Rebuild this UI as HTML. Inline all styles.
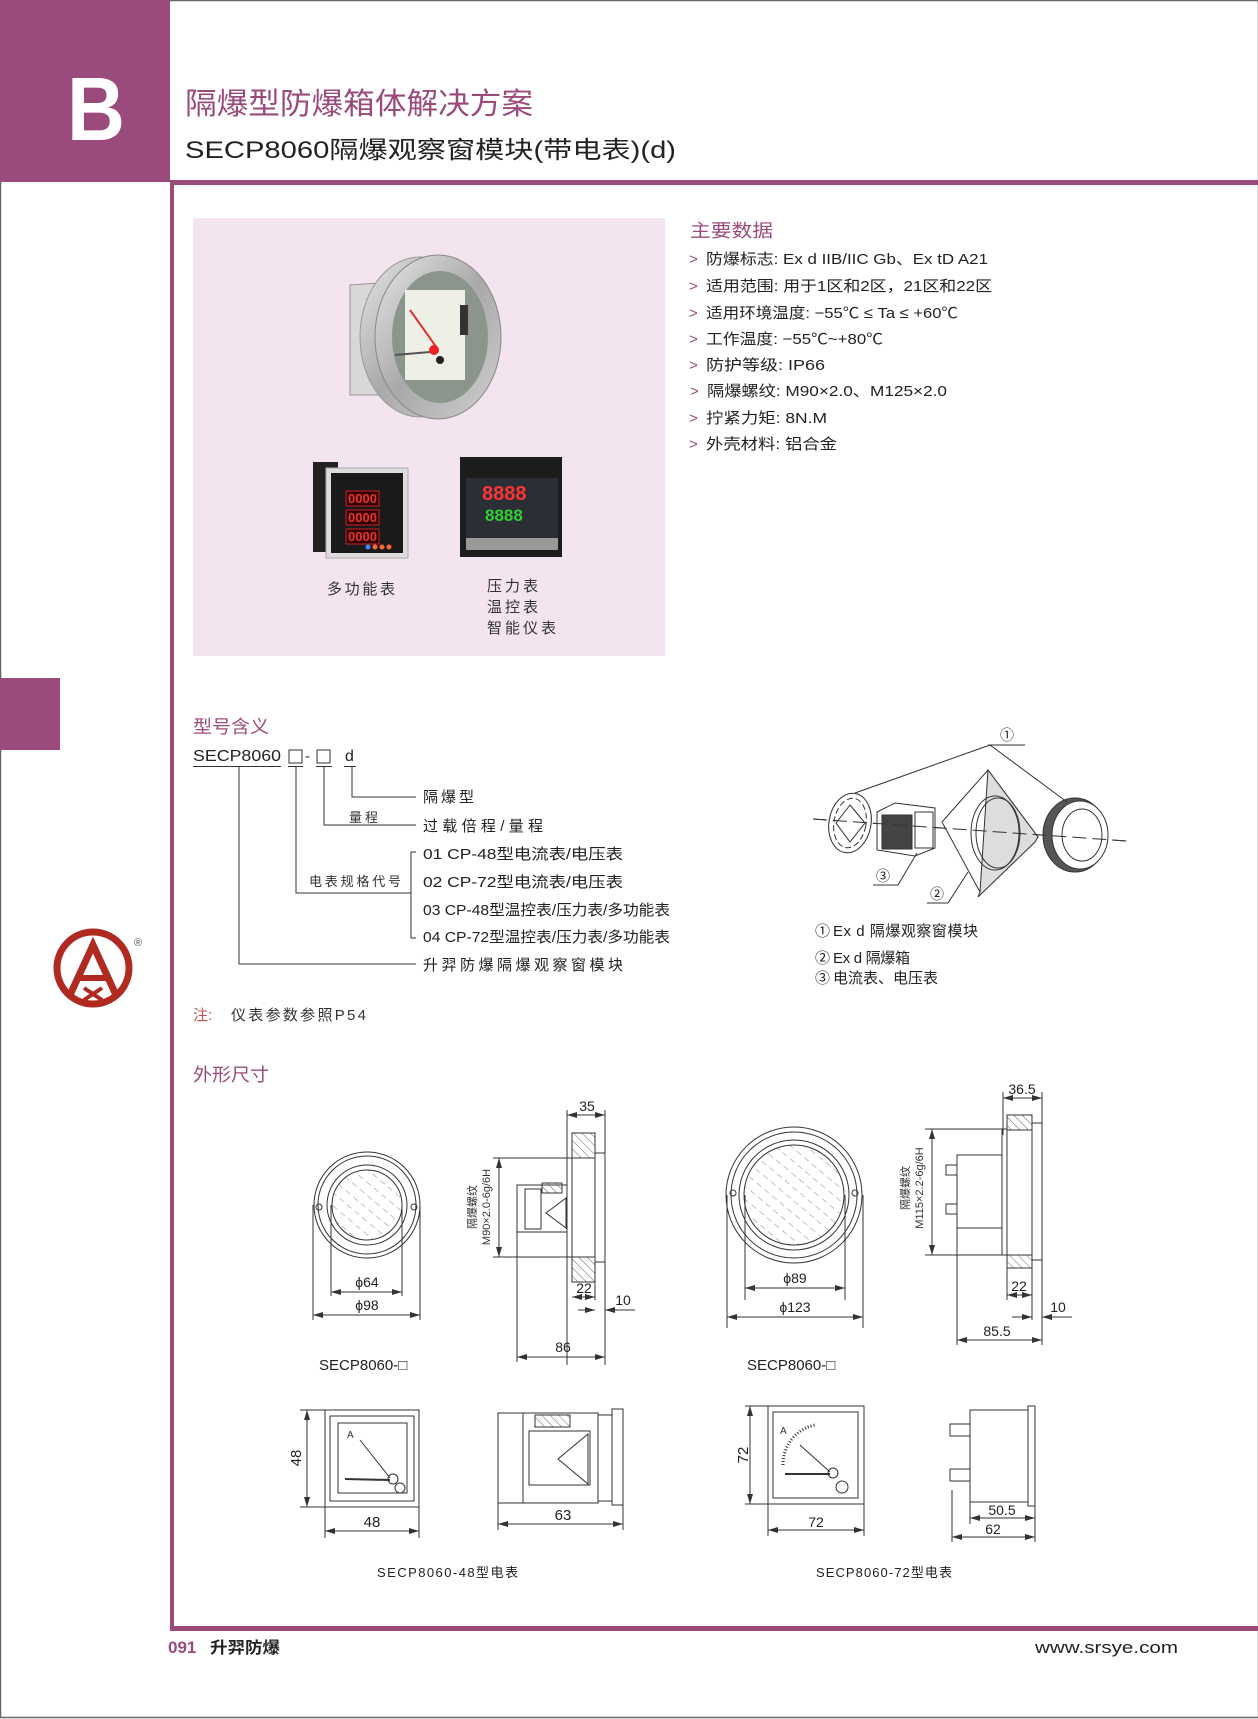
<!DOCTYPE html>
<html><head><meta charset="utf-8"><style>
html,body{margin:0;padding:0;background:#fff}
svg{display:block}
text{font-family:"Liberation Sans","Noto Sans CJK SC",sans-serif}
</style></head><body>
<svg width="1258" height="1719" viewBox="0 0 1258 1719" xmlns="http://www.w3.org/2000/svg">
<defs>
<pattern id="hat" width="6" height="6" patternUnits="userSpaceOnUse" patternTransform="rotate(-45)">
<line x1="0" y1="0" x2="0" y2="6" stroke="#444" stroke-width="0.8"/>
</pattern>
<pattern id="glass" width="10" height="10" patternUnits="userSpaceOnUse" patternTransform="rotate(-50)">
<line x1="0" y1="0" x2="0" y2="6" stroke="#555" stroke-width="0.7"/>
</pattern>
<linearGradient id="steel" x1="0" y1="0" x2="1" y2="1">
<stop offset="0" stop-color="#e6e6e6"/><stop offset="0.5" stop-color="#a9a9a9"/><stop offset="1" stop-color="#d0d0d0"/>
</linearGradient>
<marker id="ar" viewBox="0 0 10 6" refX="10" refY="3" markerWidth="10" markerHeight="6" orient="auto-start-reverse"><path d="M0,0 L10,3 L0,6 z" fill="#333"/></marker>
</defs>

<!-- page border -->
<rect x="0.5" y="0.5" width="1258" height="1717" fill="none" stroke="#666" stroke-width="1.5"/>

<!-- header block -->
<rect x="0" y="0" width="170" height="182" fill="#9b4a7c"/>
<text x="67" y="140" font-size="90" font-weight="bold" fill="#fff" textLength="58" lengthAdjust="spacingAndGlyphs">B</text>
<rect x="170" y="180" width="1088" height="5" fill="#9b4a7c"/>
<rect x="170" y="180" width="4" height="1451" fill="#9b4a7c"/>
<rect x="170" y="1626" width="1088" height="5" fill="#9b4a7c"/>
<rect x="0" y="678" width="60" height="72" fill="#9b4a7c"/>

<text x="185" y="114" font-size="30" fill="#9b4a7c" textLength="348" lengthAdjust="spacingAndGlyphs">隔爆型防爆箱体解决方案</text>
<text x="185" y="158" font-size="24" fill="#222" textLength="491" lengthAdjust="spacingAndGlyphs">SECP8060隔爆观察窗模块(带电表)(d)</text>

<!-- photo box -->
<rect x="193" y="218" width="472" height="438" fill="#f3e4ef"/>
<!-- gauge -->
<path d="M350 285 L420 280 L420 395 L350 395 z" fill="#d8d8d8" stroke="#999"/>
<ellipse cx="420" cy="337" rx="60" ry="80" fill="url(#steel)" stroke="#999"/>
<ellipse cx="438" cy="337" rx="63" ry="82" fill="url(#steel)" stroke="#888"/>
<ellipse cx="440" cy="337" rx="48" ry="66" fill="#8b958c"/>
<rect x="405" y="290" width="60" height="90" fill="#eef0e6"/>
<line x1="410" y1="310" x2="437" y2="348" stroke="#d33" stroke-width="2"/>
<line x1="395" y1="355" x2="430" y2="352" stroke="#555" stroke-width="2"/>
<circle cx="434" cy="350" r="5" fill="#e22"/>
<circle cx="440" cy="360" r="4" fill="#222"/>
<rect x="460" y="305" width="8" height="30" fill="#333"/>
<!-- multifunction -->
<rect x="313" y="462" width="25" height="90" fill="#222"/>
<rect x="326" y="468" width="82" height="90" fill="#ddd" stroke="#aaa"/>
<rect x="331" y="473" width="72" height="80" fill="#1a1a1a"/>
<g font-family="Liberation Mono" font-size="13" fill="#e33" font-weight="bold">
<rect x="346" y="491" width="33" height="15" fill="#300" stroke="#c22"/><text x="348" y="503">0000</text>
<rect x="346" y="510" width="33" height="15" fill="#300" stroke="#c22"/><text x="348" y="522">0000</text>
<rect x="346" y="529" width="33" height="15" fill="#300" stroke="#c22"/><text x="348" y="541">0000</text>
</g>
<circle cx="368" cy="547" r="2.5" fill="#48f"/><circle cx="375" cy="547" r="2.5" fill="#f63"/><circle cx="382" cy="547" r="2.5" fill="#f63"/><circle cx="389" cy="547" r="2.5" fill="#f63"/>
<!-- controller -->
<rect x="460" y="457" width="102" height="100" fill="#1c1c1c"/>
<rect x="466" y="478" width="92" height="72" fill="#2a2e35"/>
<text x="482" y="500" font-family="Liberation Mono" font-size="20" fill="#f33" font-weight="bold">8888</text>
<text x="485" y="521" font-family="Liberation Mono" font-size="17" fill="#3c3" font-weight="bold">8888</text>
<rect x="466" y="538" width="92" height="12" fill="#999"/>
<g font-size="15" fill="#333">
<text x="327" y="594" textLength="68" lengthAdjust="spacing">多功能表</text>
<text x="487" y="591" textLength="51" lengthAdjust="spacing">压力表</text>
<text x="487" y="612" textLength="51" lengthAdjust="spacing">温控表</text>
<text x="487" y="633" textLength="69" lengthAdjust="spacing">智能仪表</text>
</g>

<!-- main data -->
<text x="690" y="237" font-size="18" fill="#9b4a7c" textLength="83" lengthAdjust="spacingAndGlyphs">主要数据</text>
<g font-size="15" fill="#9b4a7c">
<text x="689" y="264">&gt;</text><text x="689" y="291">&gt;</text><text x="689" y="318">&gt;</text><text x="689" y="344">&gt;</text>
<text x="689" y="370">&gt;</text><text x="690" y="396">&gt;</text><text x="689" y="423">&gt;</text><text x="689" y="449">&gt;</text>
</g>
<g font-size="15" fill="#222">
<text x="706" y="264" textLength="282" lengthAdjust="spacingAndGlyphs">防爆标志:  Ex d IIB/IIC Gb、Ex tD A21</text>
<text x="706" y="291" textLength="286" lengthAdjust="spacingAndGlyphs">适用范围:  用于1区和2区，21区和22区</text>
<text x="706" y="318" textLength="252" lengthAdjust="spacingAndGlyphs">适用环境温度:  −55℃ ≤ Ta ≤ +60℃</text>
<text x="706" y="344" textLength="177" lengthAdjust="spacingAndGlyphs">工作温度:  −55℃~+80℃</text>
<text x="706" y="370" textLength="119" lengthAdjust="spacingAndGlyphs">防护等级:  IP66</text>
<text x="707" y="396" textLength="240" lengthAdjust="spacingAndGlyphs">隔爆螺纹:  M90×2.0、M125×2.0</text>
<text x="706" y="423" textLength="121" lengthAdjust="spacingAndGlyphs">拧紧力矩:  8N.M</text>
<text x="706" y="449" textLength="131" lengthAdjust="spacingAndGlyphs">外壳材料:  铝合金</text>
</g>

<!-- model meaning -->
<text x="193" y="733" font-size="18" fill="#9b4a7c" textLength="76" lengthAdjust="spacingAndGlyphs">型号含义</text>
<text x="193" y="761" font-size="16" fill="#222" textLength="88" lengthAdjust="spacingAndGlyphs">SECP8060</text>
<rect x="289" y="750" width="13" height="13" fill="none" stroke="#333"/>
<text x="305" y="761" font-size="15" fill="#333">-</text>
<rect x="317" y="750" width="13" height="13" fill="none" stroke="#333"/>
<text x="345" y="761" font-size="16" fill="#222">d</text>
<g stroke="#333" stroke-width="1" fill="none">
<line x1="193" y1="766.5" x2="281" y2="766.5"/><line x1="288" y1="766.5" x2="303" y2="766.5"/>
<line x1="316" y1="766.5" x2="332" y2="766.5"/><line x1="344" y1="766.5" x2="356" y2="766.5"/>
<polyline points="352,766 352,797 416,797"/>
<polyline points="324,766 324,825 416,825"/>
<polyline points="296,766 296,893 411,893"/>
<polyline points="416,852 411,852 411,938 416,938"/>
<polyline points="239,766 239,964 416,964"/>
</g>
<g font-size="15" fill="#222">
<text x="423" y="802" textLength="51" lengthAdjust="spacing">隔爆型</text>
<text x="423" y="831" textLength="120" lengthAdjust="spacing">过载倍程/量程</text>
<text x="423" y="859" textLength="200" lengthAdjust="spacingAndGlyphs">01 CP-48型电流表/电压表</text>
<text x="423" y="887" textLength="200" lengthAdjust="spacingAndGlyphs">02 CP-72型电流表/电压表</text>
<text x="423" y="915" textLength="247" lengthAdjust="spacingAndGlyphs">03 CP-48型温控表/压力表/多功能表</text>
<text x="423" y="942" textLength="247" lengthAdjust="spacingAndGlyphs">04 CP-72型温控表/压力表/多功能表</text>
<text x="423" y="970" textLength="200" lengthAdjust="spacing">升羿防爆隔爆观察窗模块</text>
</g>
<text x="349" y="822" font-size="13" fill="#333" textLength="29" lengthAdjust="spacing">量程</text>
<text x="309" y="886" font-size="13" fill="#333" textLength="92" lengthAdjust="spacing">电表规格代号</text>
<text x="193" y="1020" font-size="15" fill="#c0504d">注:</text>
<text x="231" y="1020" font-size="15" fill="#333" textLength="135" lengthAdjust="spacing">仪表参数参照P54</text>

<!-- logo -->
<circle cx="93" cy="968" r="36" fill="none" stroke="#b02a22" stroke-width="7"/>
<path d="M70 995 L93 945 L116 995" fill="none" stroke="#b02a22" stroke-width="7"/>
<path d="M80 978 L106 978" stroke="#b02a22" stroke-width="6"/>
<path d="M84 1000 L102 988 M84 988 L102 1000" stroke="#b02a22" stroke-width="4"/>
<text x="134" y="946" font-size="11" fill="#555">®</text>

<!-- exploded view -->
<g stroke="#333" fill="none" stroke-width="1">
<line x1="813" y1="819" x2="1127" y2="841" stroke-dasharray="14,6"/>
<ellipse cx="850" cy="823" rx="21" ry="30" transform="rotate(10 850 823)" fill="#fff"/>
<ellipse cx="850" cy="823" rx="16" ry="25" transform="rotate(10 850 823)" stroke-dasharray="6,3"/>
<polygon points="850,805 865,823 850,842 836,823"/>
<polygon points="877,812 895,803 935,808 935,848 915,856 877,850" fill="#fff"/>
<rect x="882" y="815" width="30" height="34" fill="#444"/>
<rect x="915" y="812" width="18" height="36" fill="#fff"/>
<polygon points="988,770 1038,837 980,892 942,822" fill="#fff"/>
<polygon points="988,770 1038,837 1035,842 978,897 980,892" fill="#ddd"/>
<ellipse cx="995" cy="833" rx="24" ry="37"/>
<ellipse cx="998" cy="833" rx="22" ry="35"/>
<ellipse cx="1075" cy="835" rx="32" ry="37" fill="#555"/>
<ellipse cx="1080" cy="835" rx="28" ry="34" fill="#fff"/>
<ellipse cx="1082" cy="835" rx="20" ry="26"/>
<line x1="813" y1="819" x2="1127" y2="841" stroke-dasharray="14,6"/>
<line x1="988" y1="745" x2="1025" y2="745"/>
<line x1="990" y1="745" x2="855" y2="793"/>
<line x1="990" y1="745" x2="1067" y2="802"/>
<polyline points="873,885 898,885 917,853"/>
<polyline points="927,903 948,903 968,872"/>
</g>
<g font-size="14" fill="#222">
<text x="1000" y="740">①</text><text x="876" y="881">③</text><text x="930" y="899">②</text>
</g>
<g font-size="15" fill="#222">
<text x="815" y="936">①</text><text x="833" y="936" textLength="145" lengthAdjust="spacing">Ex d 隔爆观察窗模块</text>
<text x="815" y="963">②</text><text x="833" y="963" textLength="77" lengthAdjust="spacing">Ex d 隔爆箱</text>
<text x="815" y="983">③</text><text x="833" y="983" textLength="105" lengthAdjust="spacing">电流表、电压表</text>
</g>

<text x="193" y="1081" font-size="18" fill="#9b4a7c" textLength="76" lengthAdjust="spacingAndGlyphs">外形尺寸</text>

<!-- drawing 1 -->
<g stroke="#333" fill="none" stroke-width="1">
<circle cx="367" cy="1205" r="53"/><circle cx="367" cy="1205" r="49"/>
<circle cx="367" cy="1205" r="40"/>
<circle cx="367" cy="1205" r="35" fill="url(#glass)"/>
<circle cx="319" cy="1207" r="3"/><circle cx="414" cy="1207" r="3"/>
<line x1="331" y1="1205" x2="331" y2="1296"/><line x1="402" y1="1205" x2="402" y2="1296"/>
<line x1="331" y1="1292" x2="402" y2="1292" marker-start="url(#ar)" marker-end="url(#ar)"/>
<line x1="313" y1="1205" x2="313" y2="1320"/><line x1="420" y1="1205" x2="420" y2="1320"/>
<line x1="313" y1="1315" x2="420" y2="1315" marker-start="url(#ar)" marker-end="url(#ar)"/>
<!-- side -->
<line x1="493" y1="1158" x2="570" y2="1158"/><line x1="493" y1="1257" x2="570" y2="1257"/>
<line x1="499" y1="1158" x2="499" y2="1257" marker-start="url(#ar)" marker-end="url(#ar)"/>
<rect x="567" y="1158" width="5" height="99"/>
<rect x="572" y="1133" width="23" height="25" fill="url(#hat)"/>
<rect x="572" y="1257" width="23" height="25" fill="url(#hat)"/>
<rect x="572" y="1158" width="23" height="99"/>
<rect x="595" y="1153" width="10" height="109"/>
<path d="M517 1185 L567 1185 L567 1232 L517 1232 z"/>
<rect x="525" y="1189" width="16" height="40"/>
<rect x="542" y="1183" width="20" height="10" fill="url(#hat)"/>
<polygon points="546,1213 566,1198 566,1228"/>
<line x1="567" y1="1110" x2="567" y2="1365"/><line x1="605" y1="1110" x2="605" y2="1365"/>
<line x1="567" y1="1115" x2="605" y2="1115" marker-start="url(#ar)" marker-end="url(#ar)"/>
<line x1="595" y1="1262" x2="595" y2="1300"/>
<line x1="572" y1="1297" x2="595" y2="1297" marker-start="url(#ar)" marker-end="url(#ar)"/>
<line x1="578" y1="1310" x2="595" y2="1310" marker-end="url(#ar)"/>
<line x1="635" y1="1310" x2="605" y2="1310" marker-end="url(#ar)"/>
<line x1="517" y1="1232" x2="517" y2="1362"/>
<line x1="517" y1="1357" x2="605" y2="1357" marker-start="url(#ar)" marker-end="url(#ar)"/>
</g>
<g font-size="14" fill="#222" text-anchor="middle">
<text x="367" y="1287">ϕ64</text><text x="367" y="1310">ϕ98</text>
<text x="587" y="1111">35</text><text x="584" y="1293">22</text><text x="623" y="1305">10</text><text x="563" y="1352">86</text>
</g>
<g font-size="11" fill="#333" text-anchor="middle">
<text transform="translate(476 1207) rotate(-90)">隔爆螺纹</text>
<text transform="translate(490 1207) rotate(-90)">M90×2.0-6g/6H</text>
</g>
<text x="319" y="1370" font-size="15" fill="#222">SECP8060-□</text>

<!-- drawing 2 -->
<g stroke="#333" fill="none" stroke-width="1">
<circle cx="794" cy="1195" r="68"/><circle cx="794" cy="1195" r="63"/>
<circle cx="794" cy="1195" r="55"/>
<circle cx="794" cy="1195" r="50" fill="url(#glass)"/>
<circle cx="733" cy="1193" r="3"/><circle cx="855" cy="1193" r="3"/>
<line x1="745" y1="1195" x2="745" y2="1300"/><line x1="845" y1="1195" x2="845" y2="1300"/>
<line x1="745" y1="1288" x2="845" y2="1288" marker-start="url(#ar)" marker-end="url(#ar)"/>
<line x1="727" y1="1195" x2="727" y2="1328"/><line x1="863" y1="1195" x2="863" y2="1328"/>
<line x1="727" y1="1317" x2="863" y2="1317" marker-start="url(#ar)" marker-end="url(#ar)"/>
<line x1="925" y1="1129" x2="1003" y2="1129"/><line x1="925" y1="1255" x2="1003" y2="1255"/>
<line x1="932" y1="1129" x2="932" y2="1255" marker-start="url(#ar)" marker-end="url(#ar)"/>
<rect x="1002" y="1129" width="5" height="126"/>
<rect x="1007" y="1115" width="25" height="15" fill="url(#hat)"/>
<rect x="1007" y="1255" width="25" height="13" fill="url(#hat)"/>
<rect x="1007" y="1130" width="25" height="125"/>
<rect x="1032" y="1123" width="10" height="137"/>
<rect x="957" y="1155" width="45" height="73"/>
<rect x="946" y="1165" width="11" height="10"/><rect x="946" y="1204" width="11" height="10"/>
<line x1="1003" y1="1092" x2="1003" y2="1135"/><line x1="1042" y1="1092" x2="1042" y2="1345"/>
<line x1="1003" y1="1098" x2="1042" y2="1098" marker-start="url(#ar)" marker-end="url(#ar)"/>
<line x1="1007" y1="1268" x2="1007" y2="1300"/><line x1="1032" y1="1268" x2="1032" y2="1320"/>
<line x1="1007" y1="1295" x2="1032" y2="1295" marker-start="url(#ar)" marker-end="url(#ar)"/>
<line x1="1012" y1="1317" x2="1032" y2="1317" marker-end="url(#ar)"/>
<line x1="1072" y1="1317" x2="1042" y2="1317" marker-end="url(#ar)"/>
<line x1="957" y1="1228" x2="957" y2="1345"/>
<line x1="957" y1="1340" x2="1042" y2="1340" marker-start="url(#ar)" marker-end="url(#ar)"/>
</g>
<g font-size="14" fill="#222" text-anchor="middle">
<text x="795" y="1283">ϕ89</text><text x="795" y="1312">ϕ123</text>
<text x="1022" y="1094">36.5</text><text x="1019" y="1291">22</text><text x="1058" y="1312">10</text><text x="997" y="1336">85.5</text>
</g>
<g font-size="11" fill="#333" text-anchor="middle">
<text transform="translate(909 1188) rotate(-90)">隔爆螺纹</text>
<text transform="translate(923 1188) rotate(-90)">M115×2.2-6g/6H</text>
</g>
<text x="747" y="1370" font-size="15" fill="#222">SECP8060-□</text>

<!-- 48 meter -->
<g stroke="#333" fill="none" stroke-width="1">
<rect x="325" y="1410" width="94" height="97"/>
<rect x="330" y="1416" width="84" height="85"/>
<rect x="338" y="1423" width="69" height="70"/>
<line x1="300" y1="1410" x2="325" y2="1410"/><line x1="300" y1="1507" x2="325" y2="1507"/>
<line x1="307" y1="1410" x2="307" y2="1507" marker-start="url(#ar)" marker-end="url(#ar)"/>
<line x1="325" y1="1507" x2="325" y2="1538"/><line x1="419" y1="1507" x2="419" y2="1538"/>
<line x1="325" y1="1531" x2="419" y2="1531" marker-start="url(#ar)" marker-end="url(#ar)"/>
<line x1="360" y1="1440" x2="390" y2="1478"/><line x1="345" y1="1479" x2="390" y2="1480" stroke-width="2"/>
<circle cx="393" cy="1479" r="5"/><circle cx="400" cy="1488" r="5"/>
<rect x="498" y="1413" width="25" height="90"/>
<rect x="523" y="1413" width="75" height="90"/>
<rect x="529" y="1431" width="61" height="54"/>
<polygon points="558,1459 588,1434 588,1484"/>
<rect x="535" y="1415" width="35" height="12" fill="url(#hat)"/>
<rect x="598" y="1415" width="14" height="86"/>
<rect x="612" y="1409" width="11" height="96"/>
<line x1="498" y1="1503" x2="498" y2="1530"/><line x1="623" y1="1505" x2="623" y2="1530"/>
<line x1="498" y1="1524" x2="623" y2="1524" marker-start="url(#ar)" marker-end="url(#ar)"/>
</g>
<text x="347" y="1438" font-size="10" fill="#333">A</text>
<text transform="translate(301 1458) rotate(-90)" font-size="15" fill="#222" text-anchor="middle">48</text>
<g font-size="15" fill="#222" text-anchor="middle"><text x="372" y="1527">48</text><text x="563" y="1520">63</text></g>
<text x="377" y="1577" font-size="13" fill="#222" textLength="141" lengthAdjust="spacing">SECP8060-48型电表</text>

<!-- 72 meter -->
<g stroke="#333" fill="none" stroke-width="1">
<rect x="768" y="1406" width="96" height="98"/>
<rect x="773" y="1412" width="85" height="86"/>
<line x1="745" y1="1406" x2="768" y2="1406"/><line x1="745" y1="1504" x2="768" y2="1504"/>
<line x1="750" y1="1406" x2="750" y2="1504" marker-start="url(#ar)" marker-end="url(#ar)"/>
<line x1="768" y1="1504" x2="768" y2="1536"/><line x1="864" y1="1504" x2="864" y2="1536"/>
<line x1="768" y1="1530" x2="864" y2="1530" marker-start="url(#ar)" marker-end="url(#ar)"/>
<path d="M783 1465 A40 40 0 0 1 815 1425" stroke-dasharray="1,2" stroke-width="3"/>
<line x1="800" y1="1445" x2="830" y2="1472"/><line x1="785" y1="1474" x2="830" y2="1474" stroke-width="2"/>
<circle cx="833" cy="1473" r="5"/><circle cx="842" cy="1487" r="6"/>
<rect x="970" y="1410" width="58" height="92"/>
<rect x="1028" y="1406" width="7" height="100"/>
<rect x="950" y="1424" width="20" height="12"/><rect x="950" y="1469" width="20" height="12"/>
<line x1="970" y1="1502" x2="970" y2="1524"/><line x1="1035" y1="1506" x2="1035" y2="1542"/>
<line x1="970" y1="1518" x2="1035" y2="1518" marker-start="url(#ar)" marker-end="url(#ar)"/>
<line x1="952" y1="1490" x2="952" y2="1542"/>
<line x1="952" y1="1537" x2="1035" y2="1537" marker-start="url(#ar)" marker-end="url(#ar)"/>
</g>
<text x="780" y="1434" font-size="10" fill="#333">A</text>
<text transform="translate(748 1455) rotate(-90)" font-size="15" fill="#222" text-anchor="middle">72</text>
<g font-size="14" fill="#222" text-anchor="middle"><text x="816" y="1527">72</text><text x="1002" y="1515">50.5</text><text x="993" y="1534">62</text></g>
<text x="816" y="1577" font-size="13" fill="#222" textLength="136" lengthAdjust="spacing">SECP8060-72型电表</text>

<!-- footer -->
<text x="168" y="1653" font-size="17" font-weight="bold" fill="#9b4a7c">091</text>
<text x="210" y="1653" font-size="16" font-weight="bold" fill="#222" textLength="70" lengthAdjust="spacingAndGlyphs">升羿防爆</text>
<text x="1035" y="1653" font-size="17" fill="#222" textLength="143" lengthAdjust="spacingAndGlyphs">www.srsye.com</text>
</svg>
</body></html>
